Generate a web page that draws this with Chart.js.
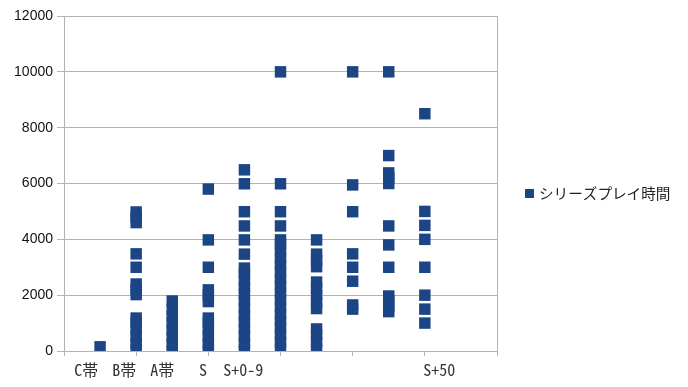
<!DOCTYPE html>
<html>
<head>
<meta charset="utf-8">
<script src="https://cdn.jsdelivr.net/npm/chart.js@4/dist/chart.umd.min.js"></script>
<style>
  html, body { margin: 0; padding: 0; background: #ffffff; }
  #wrap { width: 688px; height: 387px; position: relative; }
</style>
</head>
<body>
<div id="wrap"><canvas id="c" width="688" height="387"></canvas></div>
<script>
// ---- data ----
const seriesName = 'シリーズプレイ時間';
const tickLabels = ['C帯', 'B帯', 'A帯', 'S', 'S+0-9', 'S+50'];
const tickLabelPositions = [0.62, 1.67, 2.72, 3.85, 4.97, 10.4];
const columnX = [1, 2, 3, 4, 5, 6, 7, 8, 9, 10];
const col1 = [150];
const col2 = [30, 280, 530, 780, 1030, 1180, 2020, 2200, 2400, 3000, 3480, 4600, 4800, 4980];
const col3 = [0, 250, 500, 750, 1000, 1250, 1500, 1790];
const col4 = [30, 280, 530, 780, 1030, 1180, 1770, 2000, 2190, 3000, 3980, 5800];
const col5 = [40, 290, 540, 790, 1040, 1290, 1540, 1790, 2040, 2290, 2540, 2790, 2970, 3470, 3980, 4480, 4990, 5990, 6490];
const col6 = [80, 330, 580, 830, 1080, 1330, 1580, 1830, 2080, 2330, 2580, 2830, 3080, 3330, 3580, 3830, 3980, 4480, 4990, 5990, 10000];
const col7 = [80, 330, 580, 790, 1520, 1750, 2000, 2250, 2470, 3020, 3250, 3470, 3980];
const col8 = [1500, 1650, 2500, 3000, 3480, 4990, 5950, 10000];
const col9 = [1410, 1600, 1800, 1970, 3000, 3800, 4480, 6000, 6200, 6380, 7000, 10000];
const col10 = [1000, 1500, 2000, 3000, 4000, 4500, 5000, 8500];
const columns = [col1, col2, col3, col4, col5, col6, col7, col8, col9, col10];
const yTicks = [0, 2000, 4000, 6000, 8000, 10000, 12000];
const xMajorTicks = [0, 2, 4, 6, 8, 10, 12];

// ---- build points ----
const points = [];
columns.forEach((vals, i) => vals.forEach(v => points.push({ x: columnX[i], y: v })));

const markerColor = '#1b4584';
const gridColor = '#b3b3b3';

const legendPlugin = {
  id: 'sideLegend',
  afterDraw(chart) {
    const ctx = chart.ctx;
    ctx.save();
    ctx.fillStyle = markerColor;
    ctx.fillRect(525, 189, 9, 9);
    ctx.fillStyle = '#222222';
    ctx.font = '14.6px "Noto Sans CJK JP", sans-serif';
    ctx.textBaseline = 'middle';
    ctx.textAlign = 'left';
    ctx.fillText(chart.data.datasets[0].label, 539, 193.5);
    ctx.restore();
  }
};

new Chart(document.getElementById('c'), {
  type: 'scatter',
  data: {
    datasets: [{
      label: seriesName,
      data: points,
      pointStyle: 'rect',
      pointRadius: 8.1,
      pointHoverRadius: 8.1,
      pointBackgroundColor: markerColor,
      pointBorderColor: markerColor,
      pointBorderWidth: 0,
      backgroundColor: markerColor,
      borderColor: markerColor,
      borderWidth: 0,
      showLine: false
    }]
  },
  options: {
    responsive: false,
    animation: false,
    devicePixelRatio: 1,
    layout: { padding: { top: 16, right: 191, left: 0, bottom: 0 } },
    plugins: { legend: { display: false }, tooltip: { enabled: false } },
    scales: {
      x: {
        type: 'linear',
        min: 0, max: 12,
        afterFit(scale) { scale.height = 36; },
        afterBuildTicks(scale) {
          const vals = xMajorTicks.concat(tickLabelPositions).sort((a, b) => a - b);
          scale.ticks = vals.map(v => ({ value: v }));
        },
        ticks: {
          autoSkip: false,
          maxRotation: 0,
          minRotation: 0,
          padding: 4,
          color: '#333333',
          font: { family: '"Noto Sans Mono CJK JP", "DejaVu Sans Mono", monospace', size: 16 },
          callback(value) {
            const idx = tickLabelPositions.indexOf(value);
            return idx >= 0 ? tickLabels[idx] : '';
          }
        },
        grid: {
          color: (c) => (c.tick && c.tick.value === 12) ? gridColor : 'rgba(0,0,0,0)',
          tickColor: (c) => (c.tick && xMajorTicks.includes(c.tick.value)) ? gridColor : 'rgba(0,0,0,0)',
          tickLength: 5,
          lineWidth: 1
        },
        border: { display: true, color: gridColor }
      },
      y: {
        min: 0, max: 12000,
        afterFit(scale) { scale.width = 64; },
        afterBuildTicks(scale) { scale.ticks = yTicks.map(v => ({ value: v })); },
        ticks: {
          padding: 4,
          color: '#111111',
          font: { family: '"Liberation Sans", Arial, sans-serif', size: 14 },
          callback(value) { return String(value); }
        },
        grid: { color: gridColor, tickColor: gridColor, tickLength: 7 },
        border: { display: true, color: gridColor }
      }
    }
  },
  plugins: [legendPlugin]
});
</script>
</body>
</html>
